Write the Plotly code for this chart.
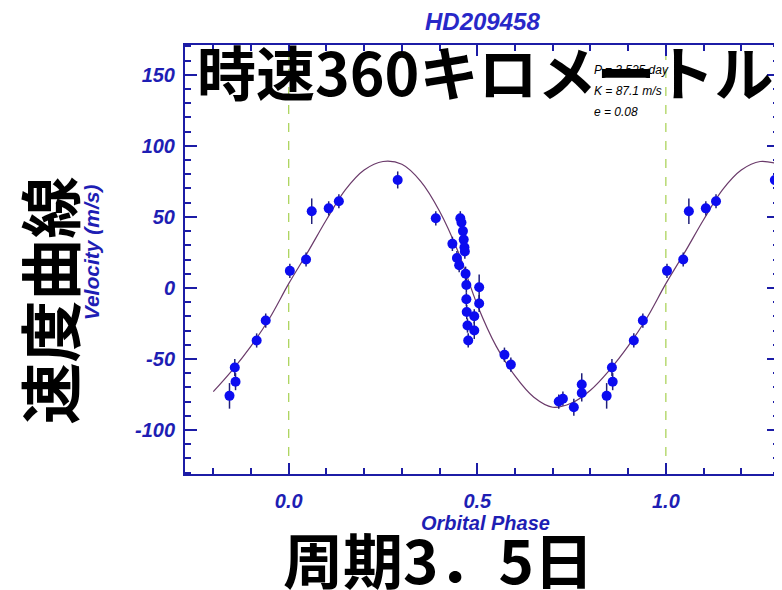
import plotly.graph_objects as go

# ---------------- data ----------------
phase = [0.003, 0.046, 0.061, 0.106, 0.133, 0.289,
         0.390, 0.434, 0.446, 0.452, 0.455, 0.458, 0.462, 0.464, 0.466, 0.467,
         0.469, 0.471, 0.471, 0.472, 0.474, 0.476, 0.492, 0.492, 0.505, 0.505,
         0.572, 0.589, 0.716, 0.727, 0.756, 0.777, 0.777,
         0.843, 0.857, 0.859, 0.915, 0.939]
velocity = [12, 20, 54, 56, 61, 76,
            49, 31, 21, 16, 49, 46, 40, 34, 28.6, 25.6,
            10, 2, -8, -17, -26.5, -37, -20, -30, 0.5, -11,
            -47, -54, -80, -78, -84, -68, -74,
            -76, -56, -66, -37, -23]
verr = [5, 5, 9, 5, 5, 6,
        5, 5, 5, 5, 5, 5, 5, 5, 5, 5,
        5, 5, 5, 5, 5, 5, 5, 6, 9, 6,
        5, 5, 5, 5, 6, 8, 6,
        9, 6, 6, 5, 5]

fit_phase = [-0.20, -0.15, -0.10, -0.05, 0.00, 0.05, 0.10, 0.15, 0.20, 0.25,
             0.30, 0.35, 0.40, 0.45, 0.50, 0.55, 0.60, 0.65, 0.70, 0.75,
             0.80, 0.85, 0.90, 0.95, 1.00, 1.05, 1.10, 1.15, 1.20, 1.25, 1.30]
fit_velocity = [-73, -58, -41, -21, 3, 25, 48, 69, 83, 89,
                87, 75, 54, 25, -12, -41, -62, -77, -84, -81,
                -72, -58, -41, -21, 3, 25, 48, 69, 83, 89,
                87]

x_tick_vals = [0.0, 0.5, 1.0]
x_tick_text = ["0.0", "0.5", "1.0"]
y_tick_vals = [-100, -50, 0, 50, 100, 150]
y_tick_text = ["-100", "-50", "0", "50", "100", "150"]
period_lines = [0.0, 1.0]

title_text = "HD209458"
x_title = "Orbital Phase"
y_title = "Velocity (m/s)"
param_lines = ["P = 3.525 day", "K = 87.1 m/s", "e = 0.08"]
jp_top = "時速360キロメートル"
jp_left = "速度曲線"
jp_bottom = "周期3．5日"

X_RANGE = [-0.275, 1.3]
Y_RANGE = [-131, 171]
FOLD_WINDOW = [-0.2, 1.3]   # phases at which observations are repeated

# phase-folded plot: repeat points by one period where they fall in the window
px, py, pe = [], [], []
for p, v, e in zip(phase, velocity, verr):
    for s in (-1, 0, 1):
        q = p + s
        if FOLD_WINDOW[0] <= q <= FOLD_WINDOW[1]:
            px.append(q); py.append(v); pe.append(e)

# ---------------- figure ----------------
OFF = 8  # page body margin
W, H = 782 - OFF, 590 - OFF
ML, MR, MT, MB = 185 - OFF, 1, 45 - OFF, 116
PW, PH = W - ML - MR, H - MT - MB

def xp(pxl):
    return (pxl - OFF - ML) / PW

def yp(pyl):
    return (H - MB - (pyl - OFF)) / PH

AX = "#1c1ca6"
BLUE_TXT = "#1e1eb4"
LBL = dict(family="Liberation Sans, Arial, sans-serif", weight="bold", style="italic")
JP = dict(family="Noto Sans CJK JP", weight="bold", color="black")

fig = go.Figure()

for v in period_lines:
    fig.add_shape(type="line", xref="x", yref="paper", x0=v, x1=v, y0=0, y1=1,
                  line=dict(color="#a6d050", width=1.2, dash="dash"), layer="below")

fig.add_trace(go.Scatter(x=fit_phase, y=fit_velocity, mode="lines",
                         line=dict(color="#6a3a6a", width=1.2, shape="spline"),
                         hoverinfo="skip", showlegend=False))

fig.add_trace(go.Scatter(x=px, y=py, mode="markers",
                         marker=dict(color="#0c0cf0", size=10, line=dict(width=0)),
                         error_y=dict(type="data", array=pe, visible=True,
                                      color="#20207a", thickness=1.5, width=0),
                         showlegend=False))

axis_common = dict(showline=True, linecolor=AX, linewidth=2, mirror="allticks",
                   ticks="inside", tickcolor=AX, tickwidth=2, showgrid=False,
                   zeroline=False, tickfont=dict(size=20, color=BLUE_TXT, **LBL))

fig.update_xaxes(range=X_RANGE, tickmode="array", tickvals=x_tick_vals,
                 ticktext=x_tick_text, ticklen=11, ticklabelstandoff=8,
                 minor=dict(tickmode="linear", tick0=0, dtick=0.1, ticks="inside",
                            ticklen=6, tickcolor=AX, tickwidth=2),
                 **axis_common)
fig.update_yaxes(range=Y_RANGE, tickmode="array", tickvals=y_tick_vals,
                 ticktext=y_tick_text, ticklen=12, ticklabelstandoff=4,
                 minor=dict(tickmode="linear", tick0=0, dtick=10, ticks="inside",
                            ticklen=6, tickcolor=AX, tickwidth=2),
                 **axis_common)

ann = []
ann.append(dict(text=title_text, x=xp(484), y=yp(22), xref="paper", yref="paper",
                showarrow=False, xanchor="center", yanchor="middle",
                font=dict(size=24, color="#2828c8", **LBL)))
ann.append(dict(text=y_title, x=xp(91), y=yp(252), xref="paper", yref="paper",
                showarrow=False, textangle=-90, xanchor="center", yanchor="middle",
                font=dict(size=21, color=BLUE_TXT, **LBL)))
ann.append(dict(text=x_title, x=xp(487), y=yp(523), xref="paper", yref="paper",
                showarrow=False, xanchor="center", yanchor="middle",
                font=dict(size=20, color=BLUE_TXT, **LBL)))
for i, t in enumerate(param_lines):
    ann.append(dict(text=t, x=xp(593), y=yp(70 + 21 * i), xref="paper", yref="paper",
                    showarrow=False, xanchor="left", yanchor="middle",
                    font=dict(size=12, color="black",
                              family="Liberation Sans, Arial, sans-serif", style="italic")))
ann.append(dict(text=jp_top, x=xp(486), y=yp(70), xref="paper", yref="paper",
                showarrow=False, xanchor="center", yanchor="middle",
                font=dict(size=59, **JP)))
ann.append(dict(text=jp_left, x=xp(48), y=yp(300), xref="paper", yref="paper",
                showarrow=False, textangle=-90, xanchor="center", yanchor="middle",
                font=dict(size=62, **JP)))
ann.append(dict(text=jp_bottom, x=xp(439), y=yp(557), xref="paper", yref="paper",
                showarrow=False, xanchor="center", yanchor="middle",
                font=dict(size=60, **JP)))

fig.update_layout(width=W, height=H, margin=dict(l=ML, r=MR, t=MT, b=MB),
                  paper_bgcolor="white", plot_bgcolor="white",
                  annotations=ann, showlegend=False)

fig.write_html("out.html")
